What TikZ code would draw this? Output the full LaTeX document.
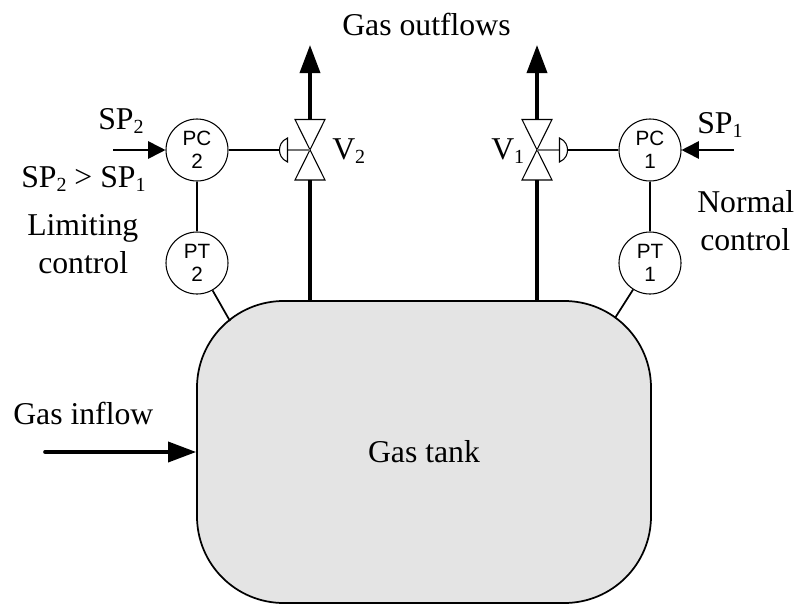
\documentclass[tikz,border=0pt]{standalone}
\usepackage{fontspec}
\setmainfont{Liberation Serif}
\setsansfont{Liberation Sans}
\usetikzlibrary{arrows.meta}
\newcommand{\sbs}[1]{\raisebox{-3pt}{\fontsize{15pt}{15pt}\selectfont #1}}
\tikzset{
  x=0.75pt,y=-0.75pt,
  lbl/.style={font=\fontsize{23.8pt}{28pt}\selectfont,inner sep=0pt,anchor=base west},
  inst/.style={circle,draw,line width=0.8pt,minimum size=46.5pt,inner sep=0pt,align=center,font=\sffamily\fontsize{15.5pt}{17pt}\selectfont},
  sigline/.style={line width=1.3pt},
  flowpipe/.style={line width=2.7pt},
  bighead/.style={-{Triangle[length=21pt,width=15pt]}},
  smallhead/.style={-{Triangle[length=13pt,width=13pt]}},
  valveline/.style={line width=0.8pt,line join=miter},
  stem/.style={line width=0.9pt,draw=black!55},
}
\begin{document}
\begin{tikzpicture}
\useasboundingbox (0,0) rectangle (797,604);
% tank
\node[draw,line width=1.3pt,fill=black!10.5,rounded corners=65pt,minimum width=340.5pt,minimum height=226.5pt,inner sep=0pt,font=\fontsize{23.8pt}{28pt}\selectfont] (tank) at (424,452) {Gas tank};
% instruments
\node[inst] (pc2) at (197,150) {PC\\2};
\node[inst] (pt2) at (197,263) {PT\\2};
\node[inst] (pc1) at (650,150) {PC\\1};
\node[inst] (pt1) at (650,263) {PT\\1};
% valves
\coordinate (v2) at (310,150);
\coordinate (v1) at (537,150);
\coordinate (a2) at (287.5,150);
\coordinate (a1) at (559.5,150);
\coordinate (a2e) at (279.5,150);
\coordinate (a1e) at (567.5,150);
\draw[valveline] (295,119.5) -- (325,119.5) -- (295,180) -- (325,180) -- cycle;
\draw[valveline] (522,119.5) -- (552,119.5) -- (522,180) -- (552,180) -- cycle;
\draw[stem] (a2) -- (v2);
\draw[stem] (a1) -- (v1);
\draw[valveline] (287.5,138) .. controls (281,141) and (279.5,146) .. (279.5,150) .. controls (279.5,154) and (281,159) .. (287.5,162) -- cycle;
\draw[valveline] (559.5,138) .. controls (566,141) and (567.5,146) .. (567.5,150) .. controls (567.5,154) and (566,159) .. (559.5,162) -- cycle;
% signal lines
\draw[sigline] (pc2) -- (a2e);
\draw[sigline] (pc1) -- (a1e);
\draw[sigline] (pc2) -- (pt2);
\draw[sigline] (pc1) -- (pt1);
\coordinate (t2) at (230,321);
\coordinate (t1) at (615,318);
\draw[sigline] (pt2) -- (t2);
\draw[sigline] (pt1) -- (t1);
% pipes
\coordinate (o2) at (310,45);
\coordinate (o1) at (537,45);
\coordinate (vt2) at (310,119.5);
\coordinate (vt1) at (537,119.5);
\coordinate (vb2) at (310,180);
\coordinate (vb1) at (537,180);
\coordinate (tk2) at (310,301);
\coordinate (tk1) at (537,301);
\draw[flowpipe,bighead] (vt2) -- (o2);
\draw[flowpipe,bighead] (vt1) -- (o1);
\draw[flowpipe] (vb2) -- (tk2);
\draw[flowpipe] (vb1) -- (tk1);
\coordinate (in) at (45,452);
\draw[flowpipe,bighead,line cap=round] (in) -- (tank.west);
\coordinate (s2) at (113,150);
\coordinate (s1) at (734,150);
\draw[sigline,smallhead] (s2) -- (pc2.west);
\draw[sigline,smallhead] (s1) -- (pc1.east);
% labels
\node[lbl] (lsp2) at (98,129) {SP\sbs{2}};
\node[lbl] (lcmp) at (21,187) {SP\sbs{2} > SP\sbs{1}};
\node[lbl] (llim) at (27,235) {Limiting};
\node[lbl] (lct2) at (38,273) {control};
\node[lbl] (lv2) at (332,159) {V\sbs{2}};
\node[lbl] (lv1) at (491,159) {V\sbs{1}};
\node[lbl] (lsp1) at (697,133) {SP\sbs{1}};
\node[lbl] (lnor) at (697,212) {Normal};
\node[lbl] (lct1) at (700,250) {control};
\node[lbl] (lin) at (13,424) {Gas inflow};
\node[lbl] (lout) at (342,35) {Gas outflows};
\end{tikzpicture}
\end{document}
